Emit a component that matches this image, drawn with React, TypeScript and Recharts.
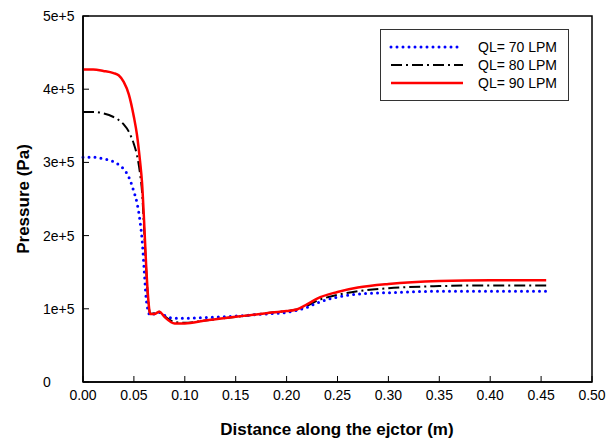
import { LineChart, Line, XAxis, YAxis, ReferenceArea, Label } from 'recharts'

const distance = [0, 0.01, 0.02, 0.03, 0.035, 0.04, 0.045, 0.05, 0.053, 0.056, 0.058, 0.06, 0.062, 0.064, 0.066, 0.07, 0.075, 0.08, 0.09, 0.1, 0.12, 0.15, 0.18, 0.2, 0.21, 0.22, 0.23, 0.25, 0.27, 0.3, 0.35, 0.4, 0.455]
const ql70 = [3.07, 3.07, 3.05, 3.01, 2.97, 2.91, 2.8, 2.6, 2.45, 2.2, 1.95, 1.55, 1.15, 0.97, 0.91, 0.93, 0.95, 0.91, 0.87, 0.87, 0.88, 0.9, 0.93, 0.95, 0.98, 1.02, 1.08, 1.16, 1.2, 1.22, 1.24, 1.24, 1.24]
const ql80 = [3.69, 3.69, 3.67, 3.62, 3.58, 3.52, 3.42, 3.25, 3.1, 2.85, 2.6, 2.1, 1.55, 1.12, 0.93, 0.94, 0.96, 0.9, 0.82, 0.81, 0.84, 0.89, 0.94, 0.97, 0.99, 1.04, 1.11, 1.19, 1.24, 1.28, 1.31, 1.32, 1.32]
const ql90 = [4.27, 4.27, 4.25, 4.22, 4.19, 4.1, 3.93, 3.62, 3.38, 3.02, 2.72, 2.2, 1.6, 1.15, 0.93, 0.93, 0.96, 0.89, 0.8, 0.8, 0.84, 0.89, 0.94, 0.97, 0.99, 1.06, 1.14, 1.23, 1.29, 1.34, 1.38, 1.39, 1.39]

const xTicks = [0, 0.05, 0.1, 0.15, 0.2, 0.25, 0.3, 0.35, 0.4, 0.45, 0.5]
const yTicks = [0, 1e5, 2e5, 3e5, 4e5, 5e5]
const seriesNames = ['QL= 70 LPM', 'QL= 80 LPM', 'QL= 90 LPM']

const data = distance.map((x, i) => ({
    x,
    a: ql70[i] * 1e5,
    b: ql80[i] * 1e5,
    c: ql90[i] * 1e5,
}))

const font = '"Liberation Sans", Arial, sans-serif'

const styles = [
    { color: '#0000ff', dash: '0 6', width: 3, cap: 'round' },
    { color: '#000000', dash: '11 4 2 4', width: 2, cap: 'butt' },
    { color: '#ff0000', dash: undefined, width: 2.5, cap: 'butt' },
]

// ticks point inward, so the line is drawn with the label
const XTick = ({ x, y, payload }: any) => (
    <g>
        <line x1={x} x2={x} y1={y - 8} y2={y - 14} stroke="#000" strokeWidth={1} />
        <text x={x} y={y} dy="0.71em" textAnchor="middle" fontSize={14} fontFamily={font} fill="#000">
            {payload.value.toFixed(2)}
        </text>
    </g>
)

// y labels are left aligned in the original
const YTick = ({ x, y, payload }: any) => (
    <g>
        <line x1={x + 8} x2={x + 14} y1={y} y2={y} stroke="#000" strokeWidth={1} />
        <text x={x - 32} y={y} dy="0.35em" textAnchor="start" fontSize={14} fontFamily={font} fill="#000">
            {payload.value === 0 ? '0' : `${payload.value / 1e5}e+5`}
        </text>
    </g>
)

const BoxLegend = () => (
    <div style={{ position: 'absolute', left: 380, top: 29, width: 189, height: 72, border: '1px solid #333', boxSizing: 'border-box', background: '#fff' }}>
        {seriesNames.map((name, i) => (
            <div key={name} style={{ display: 'flex', alignItems: 'center', height: 18, marginTop: i === 0 ? 8 : 0 }}>
                <svg width={90} height={18}>
                    <line x1={10} x2={82} y1={9} y2={9}
                        stroke={styles[i].color}
                        strokeWidth={styles[i].width}
                        strokeDasharray={styles[i].dash}
                        strokeLinecap={styles[i].cap as any} />
                </svg>
                <span style={{ fontFamily: font, fontSize: 14, color: '#000', marginLeft: 7 }}>{name}</span>
            </div>
        ))}
    </div>
)

export default function App() {
    return (
        <div style={{ position: 'absolute', left: 0, top: 0, width: 616, height: 438, background: '#fff' }}>
            <LineChart width={616} height={438} data={data} margin={{ top: 16, right: 24, bottom: 26, left: 23 }}>
                <XAxis
                    dataKey="x"
                    type="number"
                    domain={[0, 0.5]}
                    ticks={xTicks}
                    tick={<XTick />}
                    tickLine={false}
                    tickSize={0}
                    tickMargin={8}
                    height={30}
                    stroke="#000"
                    strokeWidth={1.5}
                >
                    <Label content={() => (
                        <text x={337} y={435} textAnchor="middle" fontFamily={font} fontWeight="bold" fontSize={17} fill="#000">
                            Distance along the ejctor (m)
                        </text>
                    )} />
                </XAxis>
                <YAxis
                    type="number"
                    domain={[0, 5e5]}
                    ticks={yTicks}
                    tick={<YTick />}
                    tickLine={false}
                    tickSize={0}
                    tickMargin={8}
                    width={60}
                    stroke="#000"
                    strokeWidth={1.5}
                >
                    <Label content={() => (
                        <text x={29} y={199} transform="rotate(-90 29 199)" textAnchor="middle" fontFamily={font} fontWeight="bold" fontSize={17} fill="#000">
                            Pressure (Pa)
                        </text>
                    )} />
                </YAxis>
                <ReferenceArea x1={0} x2={0.5} y1={0} y2={5e5} fill="none" stroke="#000" strokeWidth={1.5} ifOverflow="visible" />
                <Line type="monotone" dataKey="b" stroke={styles[1].color} strokeWidth={styles[1].width} strokeDasharray={styles[1].dash} dot={false} isAnimationActive={false} />
                <Line type="monotone" dataKey="a" stroke={styles[0].color} strokeWidth={styles[0].width} strokeDasharray={styles[0].dash} strokeLinecap="round" dot={false} isAnimationActive={false} />
                <Line type="monotone" dataKey="c" stroke={styles[2].color} strokeWidth={styles[2].width} dot={false} isAnimationActive={false} />
            </LineChart>
            <BoxLegend />
        </div>
    )
}
